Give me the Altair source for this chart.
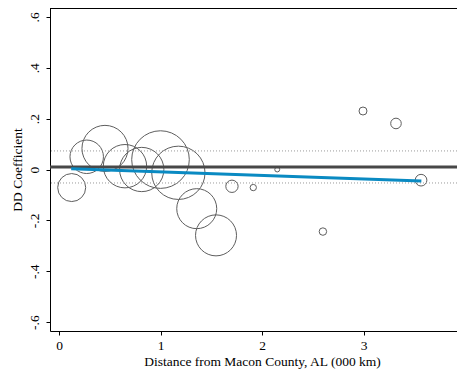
import altair as alt
import pandas as pd

# ---- data ----
dist = [0.125, 0.273, 0.453, 0.65, 0.815, 1.0, 1.176, 1.357, 1.547, 1.704,
        1.914, 2.15, 2.60, 2.995, 3.32, 3.567]
coef = [-0.071, 0.050, 0.083, 0.013, 0.0, 0.039, -0.013, -0.154, -0.259, -0.066,
        -0.071, 0.0, -0.244, 0.23, 0.181, -0.042]
weight = [196, 280, 530, 470, 490, 830, 710, 400, 420, 38, 10, 6, 14, 16, 28, 34]

fit_x = [0.12, 3.57]
fit_y = [0.003, -0.045]

overall = [0.01]
ci_bounds = [0.073, -0.053]

x_ticks = [0, 1, 2, 3, 4]
y_ticks = [-0.6, -0.4, -0.2, 0, 0.2, 0.4, 0.6]
y_tick_labels = ["-.6", "-.4", "-.2", "0", ".2", ".4", ".6"]

FONT = "Liberation Serif"
W, H = 407, 323
X_MAX = (W - 9) / 101.5

pts = pd.DataFrame({"dist": dist, "coef": coef, "weight": weight})
fit = pd.DataFrame({"dist": fit_x, "coef": fit_y})
hl = pd.DataFrame({"coef": overall})
ci = pd.DataFrame({"coef": ci_bounds})

xscale = alt.Scale(domain=[-0.0887, X_MAX], nice=False, zero=False)
yscale = alt.Scale(domain=[-0.635, 0.635], nice=False, zero=False)

label_expr = " : ".join(
    f"abs(datum.value - ({v})) < 1e-6 ? '{l}'" for v, l in zip(y_ticks, y_tick_labels)
) + " : ''"

circles = alt.Chart(pts).mark_point(
    shape="circle", filled=False, color="#5e5e5e", strokeWidth=1, opacity=1
).encode(
    x=alt.X("dist:Q", scale=xscale, axis=alt.Axis(
        values=x_ticks, format="d", tickSize=4, labelPadding=14.5,
        labelBaseline="alphabetic", labelAlign="center",
        title="Distance from Macon County, AL (000 km)",
        titleX=212, titleY=34, titleBaseline="alphabetic", titleAlign="center",
    )),
    y=alt.Y("coef:Q", scale=yscale, axis=alt.Axis(
        values=y_ticks, labelExpr=label_expr, tickSize=4, labelPadding=7.7,
        labelAngle=270, labelAlign="center", labelBaseline="alphabetic",
        title="DD Coefficient", titleAngle=270, titleX=-29, titleY=161.5,
        titleBaseline="alphabetic", titleAlign="center",
    )),
    size=alt.Size("weight:Q", scale=alt.Scale(domain=[0, 1000], range=[0, 4000], zero=True),
                  legend=None),
)

dotted = alt.Chart(ci).mark_rule(color="#9a9a9a", strokeWidth=1, strokeDash=[1, 2]).encode(
    y=alt.Y("coef:Q", scale=yscale)
)

thick = alt.Chart(hl).mark_rule(color="#484848", strokeWidth=3).encode(
    y=alt.Y("coef:Q", scale=yscale)
)

fitline = alt.Chart(fit).mark_line(color="#0a8ac2", strokeWidth=3).encode(
    x=alt.X("dist:Q", scale=xscale),
    y=alt.Y("coef:Q", scale=yscale),
)

frame_top = alt.Chart(pd.DataFrame({"k": [0]})).mark_rule(color="black", strokeWidth=1).encode(
    x=alt.value(0), x2=alt.value(W), y=alt.value(0.5)
)

chart = alt.layer(circles, dotted, thick, fitline, frame_top).properties(
    width=W, height=H,
    autosize=alt.AutoSizeParams(type="none"),
    padding={"left": 42, "top": 0, "right": 0, "bottom": 40},
).configure_view(strokeWidth=0).configure_axis(
    grid=False, domainColor="black", domainWidth=1, tickColor="black", tickWidth=1,
    labelColor="black", titleColor="black", labelFont=FONT, titleFont=FONT,
    labelFontSize=13.5, titleFontSize=13.5, titleFontWeight="normal",
)

chart.save("out.html", embed_options={"renderer": "svg", "actions": False})
